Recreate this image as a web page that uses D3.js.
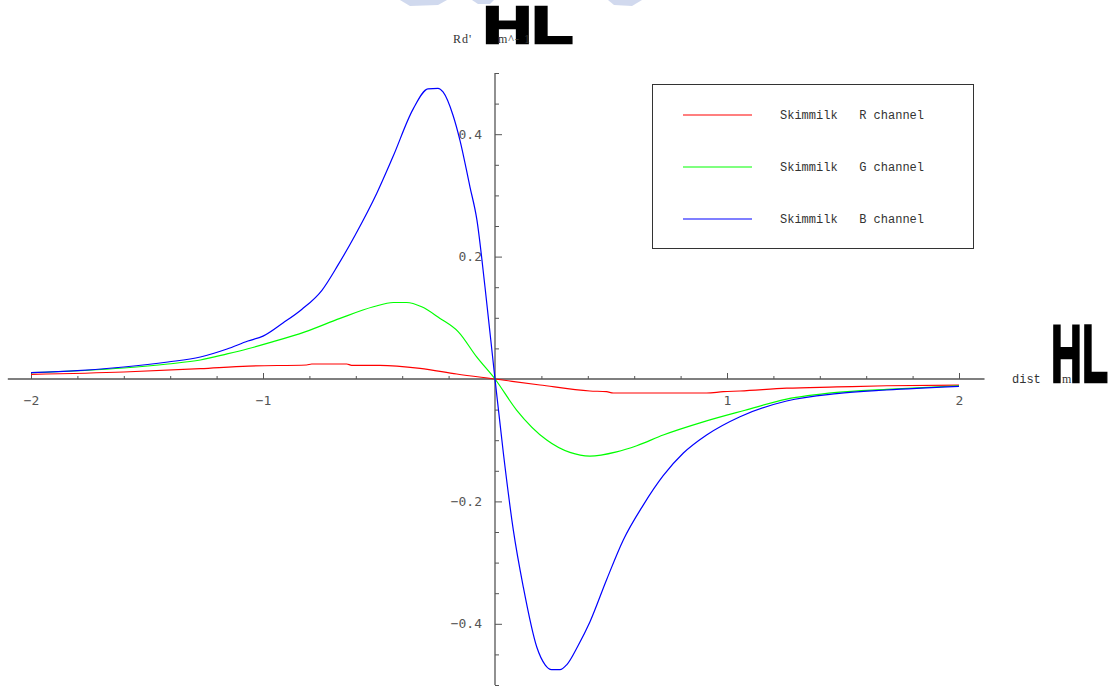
<!DOCTYPE html>
<html>
  <head>
    <meta charset="utf-8">
    <title>Skimmilk Rd'</title>
    <script src="https://d3js.org/d3.v7.min.js"></script>
    <style>
      body { margin: 0; background: #fff; }
      svg { display: block; }
    </style>
  </head>
  <body>
    <div class="chart"></div>
    <script>
      // values: dist (m) and Rd' (m^-1)
      var redX = [-2.0, -1.6, -1.27, -1.063, -0.812, -0.79, -0.639, -0.618, -0.496, -0.323, -0.165, 0, 0.194, 0.409, 0.481, 0.51, 0.912, 0.984, 1.056, 1.257, 1.473, 1.688, 2.0];
      var redY = [0.0076, 0.0114, 0.0169, 0.0212, 0.0229, 0.0245, 0.0245, 0.0224, 0.0224, 0.0174, 0.0082, 0, -0.0098, -0.0196, -0.0207, -0.0229, -0.0229, -0.0207, -0.0196, -0.015, -0.013, -0.011, -0.010];

      var greenX = [-2.0, -1.6, -1.41, -1.27, -1.155, -1.065, -0.956, -0.819, -0.668, -0.524, -0.438, -0.381, -0.316, -0.237, -0.158, -0.079, 0, 0.093, 0.223, 0.323, 0.409, 0.524, 0.611, 0.725, 0.898, 1.078, 1.257, 1.473, 1.688, 2.0];
      var greenY = [0.0103, 0.018, 0.0245, 0.031, 0.041, 0.0495, 0.061, 0.077, 0.099, 0.118, 0.125, 0.125, 0.118, 0.099, 0.077, 0.036, 0, -0.0507, -0.0997, -0.120, -0.126, -0.119, -0.109, -0.0915, -0.070, -0.051, -0.033, -0.022, -0.017, -0.011];

      var blueX = [-2.0, -1.8, -1.6, -1.41, -1.27, -1.155, -1.065, -1.0, -0.914, -0.832, -0.746, -0.677, -0.603, -0.509, -0.44, -0.353, -0.289, -0.246, -0.224, -0.181, -0.151, -0.108, -0.078, -0.043, 0, 0.036, 0.079, 0.122, 0.18, 0.216, 0.244, 0.28, 0.309, 0.359, 0.409, 0.481, 0.553, 0.639, 0.725, 0.812, 0.912, 1.056, 1.257, 1.473, 1.688, 2.0];
      var blueY = [0.0103, 0.0136, 0.0196, 0.0278, 0.036, 0.049, 0.062, 0.070, 0.0915, 0.114, 0.145, 0.186, 0.235, 0.304, 0.363, 0.441, 0.474, 0.475, 0.469, 0.431, 0.39, 0.314, 0.26, 0.150, 0, -0.121, -0.247, -0.340, -0.438, -0.467, -0.475, -0.475, -0.467, -0.435, -0.397, -0.328, -0.263, -0.206, -0.158, -0.121, -0.0915, -0.0616, -0.036, -0.024, -0.018, -0.012];

      var seriesNames = ["Skimmilk   R channel", "Skimmilk   G channel", "Skimmilk   B channel"];
      var seriesColors = ["#ff0000", "#00ff00", "#0000ff"];

      var xMajor = [-2, -1, 1, 2];
      var yMajor = [-0.4, -0.2, 0.2, 0.4];

      var canvas = d3.select("div.chart").append("svg")
        .attr("width", 1109)
        .attr("height", 686);

      var x = d3.scaleLinear().domain([-2, 2]).range([31, 959]);
      var y = d3.scaleLinear().domain([-0.5, 0.5]).range([685, 73]);

      // faint scan watermark at the very top
      var wm = canvas.append("g").attr("fill", "#c5d0ea").attr("opacity", 0.8);
      wm.append("path").attr("d", "M400,0 L447,0 L438,5 L410,6 Z");
      wm.append("path").attr("d", "M472,0 L494,0 L490,4 L478,4 Z");
      wm.append("path").attr("d", "M608,0 L642,0 L632,6 L614,5 Z");

      // axes through the origin
      canvas.append("line")
        .attr("x1", x(-2.1)).attr("x2", x(2.11))
        .attr("y1", y(0)).attr("y2", y(0))
        .attr("stroke", "#555").attr("stroke-width", 1.3);
      canvas.append("line")
        .attr("x1", x(0)).attr("x2", x(0))
        .attr("y1", y(0.5)).attr("y2", y(-0.5))
        .attr("stroke", "#555").attr("stroke-width", 1.3);

      var xMinor = d3.range(-20, 21, 2).map(function (d) { return d / 10; })
        .filter(function (d) { return Math.abs(d - Math.round(d)) > 1e-9; });
      var yMinor = d3.range(-10, 11, 1).map(function (d) { return d / 20; })
        .filter(function (d) { return Math.abs(d * 5 - Math.round(d * 5)) > 1e-9; });

      var xg = canvas.append("g").attr("transform", "translate(0," + y(0) + ")");
      xg.call(d3.axisBottom(x).tickValues(xMajor).tickFormat(d3.format("d"))
        .tickSizeInner(-6).tickSizeOuter(0).tickPadding(17));
      xg.append("g").call(d3.axisBottom(x).tickValues(xMinor).tickFormat("")
        .tickSizeInner(-3).tickSizeOuter(0));

      var yg = canvas.append("g").attr("transform", "translate(" + x(0) + ",0)");
      yg.call(d3.axisLeft(y).tickValues(yMajor).tickFormat(d3.format(".1f"))
        .tickSizeInner(-7).tickSizeOuter(0).tickPadding(13));
      yg.append("g").call(d3.axisLeft(y).tickValues(yMinor).tickFormat("")
        .tickSizeInner(-4).tickSizeOuter(0));

      canvas.selectAll(".domain").remove();
      canvas.selectAll(".tick line").attr("stroke", "#555");
      canvas.selectAll(".tick text")
        .attr("fill", "#555")
        .style("font-family", "'DejaVu Sans Mono', monospace")
        .style("font-size", "13px");

      // curves
      var line = d3.line()
        .x(function (d) { return x(d[0]); })
        .y(function (d) { return y(d[1]); })
        .curve(d3.curveMonotoneX);

      var series = [d3.zip(redX, redY), d3.zip(greenX, greenY), d3.zip(blueX, blueY)];
      canvas.append("g").selectAll("path")
        .data(series)
        .enter().append("path")
        .attr("d", line)
        .attr("fill", "none")
        .attr("stroke", function (d, i) { return seriesColors[i]; })
        .attr("stroke-width", 1.2);

      // legend
      var lg = canvas.append("g");
      lg.append("rect")
        .attr("x", 652.5).attr("y", 84.5)
        .attr("width", 321).attr("height", 164)
        .attr("fill", "#fff").attr("stroke", "#333");
      var items = lg.selectAll("g.item")
        .data(seriesNames)
        .enter().append("g")
        .attr("transform", function (d, i) { return "translate(0," + (115 + i * 52) + ")"; });
      items.append("line")
        .attr("x1", 683).attr("x2", 752)
        .attr("stroke", function (d, i) { return seriesColors[i]; })
        .attr("stroke-width", 1.2);
      items.append("text")
        .attr("x", 780).attr("y", 3.5)
        .style("white-space", "pre")
        .style("font-family", "'Liberation Mono', monospace")
        .style("font-size", "12px")
        .attr("fill", "#333")
        .text(function (d) { return d; });

      // axis labels (with the broken bracket glyphs)
      canvas.append("text")
        .attr("x", 483).attr("y", 43)
        .attr("textLength", 90).attr("lengthAdjust", "spacingAndGlyphs")
        .style("font-family", "'Liberation Sans', Arial, sans-serif")
        .style("font-weight", "bold").style("font-size", "51px")
        .attr("fill", "#000").attr("stroke", "#000").attr("stroke-width", 2.5)
        .text("HL");
      canvas.append("text")
        .attr("x", 453).attr("y", 43)
        .style("font-family", "'Liberation Serif', serif")
        .style("font-size", "12px").style("letter-spacing", "1px")
        .attr("fill", "#333")
        .text("Rd'");
      canvas.append("text")
        .attr("x", 498).attr("y", 43)
        .style("font-family", "'Liberation Serif', serif")
        .style("font-size", "12px").style("letter-spacing", "1px")
        .attr("fill", "#333")
        .text("m^- 1");

      canvas.append("text")
        .attr("x", 1012).attr("y", 383)
        .style("font-family", "'Liberation Mono', monospace")
        .style("font-size", "12px")
        .attr("fill", "#333")
        .text("dist");
      canvas.append("text")
        .attr("x", 1051).attr("y", 382)
        .attr("textLength", 57).attr("lengthAdjust", "spacingAndGlyphs")
        .style("font-family", "'Liberation Sans', Arial, sans-serif")
        .style("font-weight", "bold").style("font-size", "82px")
        .attr("fill", "#000").attr("stroke", "#000").attr("stroke-width", 2.5)
        .text("HL");
      canvas.append("text")
        .attr("x", 1062).attr("y", 383)
        .style("font-family", "'Liberation Serif', serif")
        .style("font-size", "12px")
        .attr("fill", "#333")
        .text("m");
    </script>
  </body>
</html>
